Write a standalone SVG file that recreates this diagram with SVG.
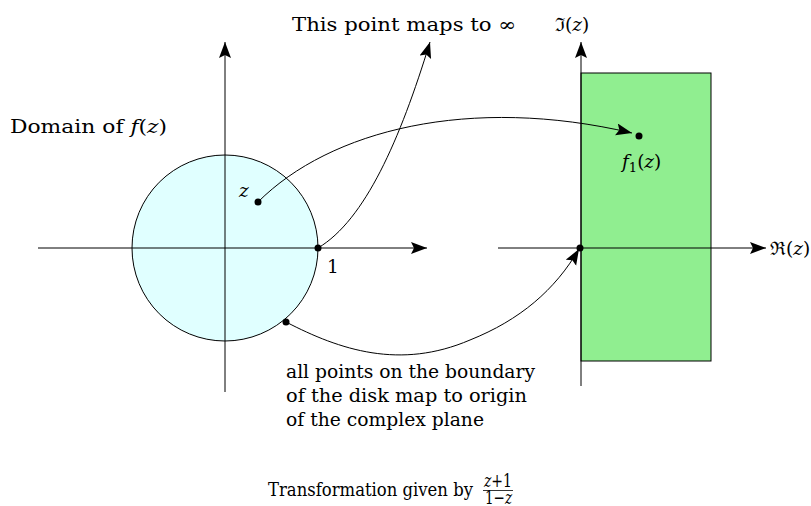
<svg xmlns="http://www.w3.org/2000/svg" width="811" height="506" viewBox="0 0 811 506">
<style>
text{font-family:"DejaVu Serif","Liberation Serif",serif;font-size:18.5px;fill:#000}
.ln{stroke:#000;stroke-width:1;fill:none}
.it{font-style:italic}
</style>
<defs>
<marker id="ah" markerUnits="userSpaceOnUse" markerWidth="18" markerHeight="14" refX="16" refY="6" orient="auto">
<path d="M0,0 L16,6 L0,12 L3,6 Z" fill="#000"/>
</marker>
</defs>
<rect width="811" height="506" fill="#fff"/>
<g id="disk">
<circle cx="225" cy="248" r="93" fill="#e0ffff" stroke="#000" stroke-width="1"/>
</g>
<g id="halfplane">
<rect x="581" y="73" width="130" height="288" fill="#90ee90" stroke="#000" stroke-width="1"/>
</g>
<g id="axes">
<line class="ln" x1="38" y1="248" x2="427" y2="248" marker-end="url(#ah)"/>
<line class="ln" x1="225" y1="392" x2="225" y2="42" marker-end="url(#ah)"/>
<line class="ln" x1="498" y1="248" x2="766" y2="248" marker-end="url(#ah)"/>
<line class="ln" x1="581" y1="386" x2="581" y2="42" marker-end="url(#ah)"/>
</g>
<g id="connectors">
<path class="ln" d="M258,202 C330,130 470,95 632,133" marker-end="url(#ah)"/>
<path class="ln" d="M318,248 C365,220 400,140 430,42" marker-end="url(#ah)"/>
<path class="ln" d="M286,322 C340,350 400,370 470,340 C520,320 555,290 579,249" marker-end="url(#ah)"/>
</g>
<g id="points">
<circle cx="258" cy="202" r="3.5" fill="#000"/>
<circle cx="318" cy="248" r="3.5" fill="#000"/>
<circle cx="286" cy="322" r="3.5" fill="#000"/>
<circle cx="580" cy="248" r="3.5" fill="#000"/>
<circle cx="639" cy="136" r="3.5" fill="#000"/>
</g>
<g id="labels">
<text x="292" y="31" textLength="224" lengthAdjust="spacingAndGlyphs">This point maps to ∞</text>
<text x="555" y="31">ℑ(<tspan class="it">z</tspan>)</text>
<text x="10" y="133" textLength="157" lengthAdjust="spacingAndGlyphs">Domain of <tspan class="it">f</tspan>(<tspan class="it">z</tspan>)</text>
<text x="239" y="197" class="it">z</text>
<text x="327" y="273">1</text>
<text x="622" y="168"><tspan class="it">f</tspan><tspan font-size="13" dy="4">1</tspan><tspan dy="-4">(</tspan><tspan class="it">z</tspan>)</text>
<text x="770" y="255">ℜ(<tspan class="it">z</tspan>)</text>
<text x="286" y="378" font-size="17" textLength="249" lengthAdjust="spacingAndGlyphs">all points on the boundary</text>
<text x="286" y="402" font-size="17" textLength="241" lengthAdjust="spacingAndGlyphs">of the disk map to origin</text>
<text x="286" y="426" font-size="17" textLength="198" lengthAdjust="spacingAndGlyphs">of the complex plane</text>
<text x="268" y="496" font-size="13.5" textLength="205" lengthAdjust="spacingAndGlyphs">Transformation given by</text>
<text x="484" y="487" font-size="10" textLength="28" lengthAdjust="spacingAndGlyphs"><tspan class="it">z</tspan>+1</text>
<line x1="483" y1="490.5" x2="513" y2="490.5" stroke="#000" stroke-width="0.8"/>
<text x="485" y="504" font-size="10" textLength="27" lengthAdjust="spacingAndGlyphs">1−<tspan class="it">z</tspan></text>
</g>
</svg>
